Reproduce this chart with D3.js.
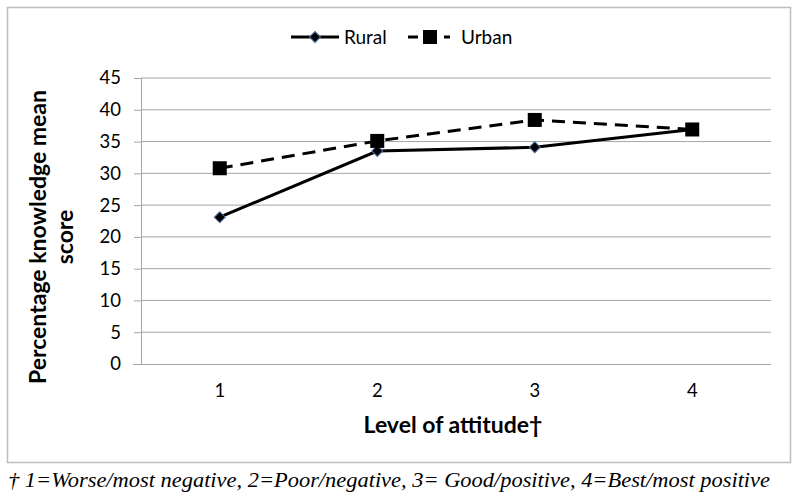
<!DOCTYPE html>
<html><head><meta charset="utf-8">
<script src="https://cdn.jsdelivr.net/npm/d3@7/dist/d3.min.js"></script>
<style>body{margin:0;background:#fff}</style>
</head><body>
<svg id="c" width="800" height="500"></svg>
<script>
const categories = ["1", "2", "3", "4"];
const rural = [23.1, 33.5, 34.1, 36.9];
const urban = [30.8, 35.1, 38.4, 36.9];
const yTicks = [0, 5, 10, 15, 20, 25, 30, 35, 40, 45];
const seriesNames = ["Rural", "Urban"];
const footnote = "† 1=Worse/most negative, 2=Poor/negative, 3= Good/positive, 4=Best/most positive";

const svg = d3.select("#c");
const font = "Lato, 'Open Sans', sans-serif";
const L = 141, R = 771, T = 78, B = 364;

svg.append("rect").attr("x", 7.5).attr("y", 7.5).attr("width", 783).attr("height", 455)
  .attr("fill", "#fff").attr("stroke", "#bdbdbd").attr("stroke-width", 1.5);

const x = d3.scaleBand().domain(categories).range([L, R]);
const y = d3.scaleLinear().domain([0, 45]).range([B, T]);
const cx = (i) => x(categories[i]) + x.bandwidth() / 2;

// gridlines
svg.append("g").selectAll("line").data(yTicks.filter(d => d > 0)).join("line")
  .attr("x1", L).attr("x2", R).attr("y1", d => y(d)).attr("y2", d => y(d))
  .attr("stroke", "#a6a6a6").attr("stroke-width", 1);

// y axis
const ya = svg.append("g").attr("transform", `translate(${L},0)`)
  .call(d3.axisLeft(y).tickValues(yTicks).tickSize(7).tickPadding(13));
ya.select(".domain").attr("stroke", "#a6a6a6");
ya.selectAll(".tick line").attr("stroke", "#a6a6a6");
ya.selectAll("text").attr("font-family", font).attr("font-size", 18.5).attr("fill", "#000");

// x axis
const xa = svg.append("g").attr("transform", `translate(0,${B})`)
  .call(d3.axisBottom(x).tickSize(0).tickPadding(20));
xa.select(".domain").attr("stroke", "#a6a6a6").attr("d", `M${L - 8},0.5H${R}`);
xa.selectAll("text").attr("font-family", font).attr("font-size", 18.5).attr("fill", "#000");

const line = d3.line().x((d, i) => cx(i)).y(d => y(d));

svg.append("path").datum(urban).attr("d", line).attr("fill", "none")
  .attr("stroke", "#000").attr("stroke-width", 3).attr("stroke-dasharray", "13,8");
svg.append("path").datum(rural).attr("d", line).attr("fill", "none")
  .attr("stroke", "#000").attr("stroke-width", 3);

svg.append("g").selectAll("path").data(rural).join("path")
  .attr("transform", (d, i) => `translate(${cx(i)},${y(d)}) rotate(45)`)
  .attr("d", d3.symbol().type(d3.symbolSquare).size(60))
  .attr("fill", "#000").attr("stroke", "#4a6fa5").attr("stroke-width", 1);

const sq = 14;
svg.append("g").selectAll("rect").data(urban).join("rect")
  .attr("x", (d, i) => cx(i) - sq / 2)
  .attr("y", d => y(d) - sq / 2).attr("width", sq).attr("height", sq).attr("fill", "#000");

// legend
const lg = svg.append("g");
lg.append("line").attr("x1", 291).attr("x2", 339).attr("y1", 37).attr("y2", 37)
  .attr("stroke", "#000").attr("stroke-width", 3);
lg.append("path").attr("transform", "translate(315,37) rotate(45)")
  .attr("d", d3.symbol().type(d3.symbolSquare).size(60))
  .attr("fill", "#000").attr("stroke", "#4a6fa5").attr("stroke-width", 1);
lg.append("text").attr("x", 344).attr("y", 43.5).text(seriesNames[0])
  .attr("font-family", font).attr("font-size", 19);
lg.append("line").attr("x1", 408).attr("x2", 450).attr("y1", 37).attr("y2", 37)
  .attr("stroke", "#000").attr("stroke-width", 3).attr("stroke-dasharray", "10,8");
lg.append("rect").attr("x", 423).attr("y", 30).attr("width", 14).attr("height", 14).attr("fill", "#000");
lg.append("text").attr("x", 461).attr("y", 43.5).text(seriesNames[1])
  .attr("font-family", font).attr("font-size", 19);

// axis titles
const yt = svg.append("text").attr("transform", "translate(46,237) rotate(-90)")
  .attr("text-anchor", "middle").attr("font-family", font).attr("font-weight", "bold").attr("font-size", 23);
yt.append("tspan").attr("x", 0).attr("dy", 0).text("Percentage knowledge mean");
yt.append("tspan").attr("x", 0).attr("dy", 27).text("score");

svg.append("text").attr("x", 453).attr("y", 433).attr("text-anchor", "middle")
  .attr("font-family", font).attr("font-weight", "bold").attr("font-size", 23).text("Level of attitude†");

svg.append("text").attr("x", 8).attr("y", 487).attr("font-family", "'Liberation Serif', serif")
  .attr("font-style", "italic").attr("font-size", 21).attr("textLength", 762)
  .attr("lengthAdjust", "spacingAndGlyphs").text(footnote);
</script>
</body></html>
